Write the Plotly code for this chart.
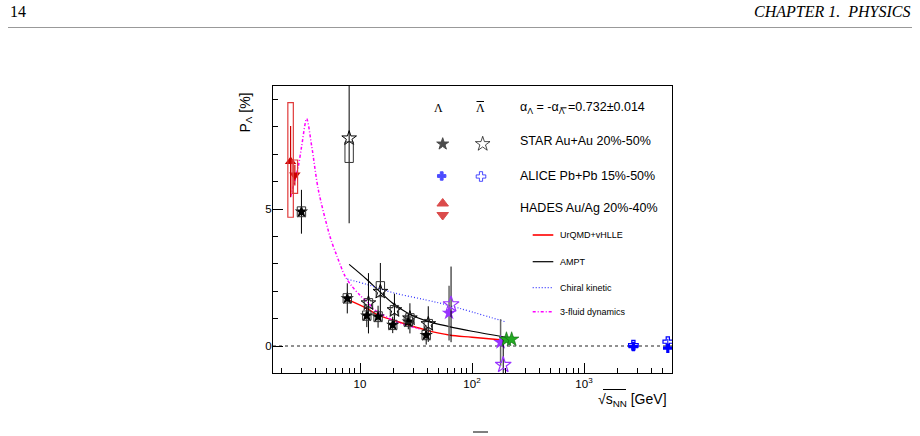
import plotly.graph_objects as go

# ---------------- data ----------------
# STAR Au+Au, Lambda (filled black stars)
star_l_E = [3.0, 7.7, 11.5, 14.5, 19.6, 27.0, 39.0]
star_l_P = [4.90, 1.74, 1.11, 1.07, 0.77, 0.89, 0.40]
star_l_stat = [0.80, 0.55, 0.42, 0.40, 0.30, 0.28, 0.35]
star_l_sys_lo = [0.18, 0.17, 0.17, 0.18, 0.17, 0.17, 0.17]
star_l_sys_hi = [0.18, 0.17, 0.17, 0.18, 0.17, 0.17, 0.17]

# STAR Au+Au, anti-Lambda (open black stars)
star_a_E = [8.0, 11.9, 15.2, 20.3, 27.9, 40.7]
star_a_P = [7.58, 1.56, 1.98, 1.31, 1.01, 0.80]
star_a_stat = [3.10, 1.10, 1.05, 0.60, 0.55, 0.65]
star_a_sys_lo = [0.88, 0.17, 0.18, 0.17, 0.17, 0.17]
star_a_sys_hi = [-0.13, 0.17, 0.37, 0.17, 0.17, 0.17]

# STAR 62.4 / 200 GeV (purple)
pur_l_E = [62.4, 180.0]
pur_l_P = [1.20, 0.13]
pur_l_stat = [1.00, 0.85]
pur_a_E = [65.0, 190.0]
pur_a_P = [1.52, -0.69]
pur_a_stat = [1.38, 0.97]

# STAR 200 GeV high statistics (green)
grn_E = [203.0, 226.0]
grn_P = [0.24, 0.24]
grn_stat = [0.05, 0.05]

# ALICE Pb+Pb (blue crosses)
ali_l_E = [2760.0, 5600.0]
ali_l_P = [-0.02, -0.08]
ali_l_stat = [0.10, 0.10]
ali_a_E = [2760.0, 5600.0]
ali_a_P = [0.03, 0.16]
ali_a_stat = [0.10, 0.10]

# HADES Au+Au / Ag+Ag (red triangles)
had_E = [2.40, 2.62]
had_P = [6.73, 6.24]
had_stat = [1.30, 0.38]
had_sys_lo = [2.03, 0.67]
had_sys_hi = [2.15, 0.55]
had_sym = ["triangle-up", "triangle-down"]

# models
urqmd_E = [7.7, 11.5, 14.5, 19.6, 27.0, 39.0, 62.4, 100.0, 200.0]
urqmd_P = [1.70, 1.37, 1.13, 0.95, 0.77, 0.58, 0.40, 0.32, 0.21]
ampt_E = [8.0, 11.5, 14.5, 19.6, 27.0, 39.0, 62.4, 100.0, 200.0]
ampt_P = [2.98, 2.43, 2.04, 1.56, 1.19, 0.92, 0.71, 0.54, 0.32]
chiral_E = [7.7, 11.5, 19.6, 39.0, 62.4, 200.0]
chiral_P = [2.44, 2.25, 1.95, 1.68, 1.48, 0.88]
tfd_E = [2.40, 2.81, 3.01, 3.34, 3.71, 4.25, 5.4, 6.2, 7.35, 8.4, 10.0, 11.9, 13.6, 21.0, 34.0]
tfd_P = [5.45, 6.55, 7.28, 8.30, 7.28, 5.69, 3.99, 3.30, 2.55, 2.20, 1.85, 1.56, 1.31, 0.89, 0.62]

x_tickvals = [10, 100, 1000]
x_ticktext = ["10", "10<sup>2</sup>", "10<sup>3</sup>"]
x_minor = [2, 3, 4, 5, 6, 7, 8, 9, 20, 30, 40, 50, 60, 70, 80, 90,
           200, 300, 400, 500, 600, 700, 800, 900, 2000, 3000, 4000, 5000, 6000]
y_tickvals = [0, 5]
y_ticktext = ["0", "5"]
y_minor = [-1, 1, 2, 3, 4, 6, 7, 8, 9]

# ---------------- layout geometry ----------------
W, H = 920, 436
L, R, T, B = 273, 672, 86, 373
SANS = "Liberation Sans"
SERIF = "Liberation Serif"


def px(x):
    return (x - L) / (R - L)


def py(y):
    return (B - y) / (B - T)


fig = go.Figure()


def err(arr, color, width=1.0):
    return dict(type="data", array=arr, visible=True, color=color, thickness=width, width=0)


# models first (below points)
fig.add_trace(go.Scatter(x=urqmd_E, y=urqmd_P, mode="lines", line=dict(color="#ff0000", width=1.4, shape="spline"), showlegend=False))
fig.add_trace(go.Scatter(x=ampt_E, y=ampt_P, mode="lines", line=dict(color="black", width=1.2, shape="spline"), showlegend=False))
fig.add_trace(go.Scatter(x=chiral_E, y=chiral_P, mode="lines", line=dict(color="#3333ff", width=1.2, dash="1px,2px", shape="spline"), showlegend=False))
fig.add_trace(go.Scatter(x=tfd_E, y=tfd_P, mode="lines", line=dict(color="#ff00ff", width=1.5, dash="3px,2px,1px,2px", shape="spline", smoothing=0.8), showlegend=False))

# data points
fig.add_trace(go.Scatter(x=star_l_E, y=star_l_P, mode="markers", error_y=err(star_l_stat, "black"),
                         marker=dict(symbol="star", size=10, color="black"), showlegend=False))
fig.add_trace(go.Scatter(x=star_a_E, y=star_a_P, mode="markers", error_y=err(star_a_stat, "black"),
                         marker=dict(symbol="star-open", size=11, color="black", line=dict(width=1)), showlegend=False))
fig.add_trace(go.Scatter(x=pur_l_E, y=pur_l_P, mode="markers", error_y=err(pur_l_stat, "#666666", 1.5),
                         marker=dict(symbol="star", size=11, color="#9933ff"), showlegend=False))
fig.add_trace(go.Scatter(x=pur_a_E, y=pur_a_P, mode="markers", error_y=err(pur_a_stat, "black"),
                         marker=dict(symbol="star-open", size=12, color="#9933ff", line=dict(width=1.2)), showlegend=False))
fig.add_trace(go.Scatter(x=grn_E, y=grn_P, mode="markers", error_y=err(grn_stat, "#118811"),
                         marker=dict(symbol="star", size=11, color="#22aa22", line=dict(width=0.6, color="#116611")), showlegend=False))
fig.add_trace(go.Scatter(x=ali_l_E, y=ali_l_P, mode="markers", error_y=err(ali_l_stat, "#0000ff"),
                         marker=dict(symbol="cross", size=8, color="#0000ff"), showlegend=False))
fig.add_trace(go.Scatter(x=ali_a_E, y=ali_a_P, mode="markers", error_y=err(ali_a_stat, "#0000ff"),
                         marker=dict(symbol="cross-open", size=8, color="#0000ff", line=dict(width=1.2)), showlegend=False))
fig.add_trace(go.Scatter(x=had_E, y=had_P, mode="markers", error_y=err(had_stat, "#cc0000", 1.2),
                         marker=dict(symbol=had_sym, size=10, color="#cc0000"), showlegend=False))

shapes = []
# zero line
shapes.append(dict(type="line", xref="paper", yref="y", x0=0, x1=1, y0=0, y1=0,
                   line=dict(color="#222222", width=1, dash="3px,3px"), layer="below"))


def boxes(E, P, lo, hi, f, color, width):
    out = []
    for e, p, a, b in zip(E, P, lo, hi):
        out.append(dict(type="rect", xref="x", yref="y", x0=e / f, x1=e * f, y0=p - a, y1=p + b,
                        line=dict(color=color, width=width), fillcolor="rgba(0,0,0,0)", layer="above"))
    return out


shapes += boxes(star_l_E, star_l_P, star_l_sys_lo, star_l_sys_hi, 1.09, "#333333", 1)
shapes += boxes(star_a_E, star_a_P, star_a_sys_lo, star_a_sys_hi, 1.09, "#333333", 1)
shapes += boxes(had_E, had_P, had_sys_lo, had_sys_hi, 1.058, "#e03a3a", 1.2)

# ---------------- legend (overlay pixel axes) ----------------
leg_mk_x = [442.7, 482.7, 441.7, 481.0, 442.7, 442.7]
leg_mk_y = [144.0, 144.0, 176.0, 176.5, 203.5, 215.0]
leg_mk_sym = ["star", "star-open", "cross", "cross-open", "triangle-up", "triangle-down"]
leg_mk_col = ["black", "black", "#0000ff", "#0000ff", "#cc0000", "#cc0000"]
leg_mk_size = [9, 11, 7, 8, 10, 10]
fig.add_trace(go.Scatter(x=leg_mk_x, y=leg_mk_y, xaxis="x2", yaxis="y2", mode="markers",
                         marker=dict(symbol=leg_mk_sym, color=leg_mk_col, size=leg_mk_size, line=dict(width=1, color=leg_mk_col)),
                         showlegend=False, hoverinfo="skip"))

model_names = ["UrQMD+vHLLE", "AMPT", "Chiral kinetic", "3-fluid dynamics"]
model_rows = [235.0, 261.7, 287.7, 311.7]
model_styles = [dict(color="#ff0000", width=1.6), dict(color="black", width=1.2),
                dict(color="#3333ff", width=1.2, dash="1px,2px"), dict(color="#ff00ff", width=1.5, dash="3px,2px,1px,2px")]
for nm, yy, st in zip(model_names, model_rows, model_styles):
    fig.add_trace(go.Scatter(x=[532.7, 553.3], y=[yy, yy], xaxis="x2", yaxis="y2", mode="lines",
                             line=st, showlegend=False, hoverinfo="skip"))

ann = []
LB = "Λ"
ann.append(dict(x=px(438.3), y=py(108.3), xref="paper", yref="paper", text=LB, showarrow=False,
                font=dict(family=SERIF, size=12, color="black"), xanchor="center", yanchor="middle"))
ann.append(dict(x=px(480.0), y=py(108.3), xref="paper", yref="paper", text=LB, showarrow=False,
                font=dict(family=SERIF, size=12, color="black"), xanchor="center", yanchor="middle"))
shapes.append(dict(type="line", xref="paper", yref="paper", x0=px(476.5), x1=px(484.0), y0=py(101.5), y1=py(101.5),
                   line=dict(color="black", width=1)))
ann.append(dict(x=px(518.3), y=py(108.3), xref="paper", yref="paper",
                text="α<sub>Λ</sub> = -α<sub>Λ</sub> =0.732±0.014", showarrow=False,
                font=dict(family=SANS, size=12.5, color="black"), xanchor="left", yanchor="middle"))
# overline of the anti-Lambda subscript
shapes.append(dict(type="line", xref="paper", yref="paper", x0=px(560.5), x1=px(566.5), y0=py(107.8), y1=py(107.8),
                   line=dict(color="black", width=1)))
for txt, yy in zip(["STAR Au+Au 20%-50%", "ALICE Pb+Pb 15%-50%", "HADES Au/Ag 20%-40%"], [141.0, 175.7, 208.3]):
    ann.append(dict(x=px(518.3), y=py(yy), xref="paper", yref="paper", text=txt, showarrow=False,
                    font=dict(family=SANS, size=12.5, color="black"), xanchor="left", yanchor="middle"))
for nm, yy in zip(model_names, model_rows):
    ann.append(dict(x=px(558.3), y=py(yy), xref="paper", yref="paper", text=nm, showarrow=False,
                    font=dict(family=SANS, size=9, color="black"), xanchor="left", yanchor="middle"))

# axis titles
ann.append(dict(x=px(245.5), y=py(91.0), xref="paper", yref="paper", text="P<sub>Λ</sub> [%]", textangle=-90,
                showarrow=False, font=dict(family=SANS, size=14, color="black"), xanchor="center", yanchor="top"))
ann.append(dict(x=px(669.0), y=py(400.0), xref="paper", yref="paper", text="√s<sub>NN</sub> [GeV]",
                showarrow=False, font=dict(family=SANS, size=14, color="black"), xanchor="right", yanchor="middle"))
shapes.append(dict(type="line", xref="paper", yref="paper", x0=px(603.0), x1=px(626.0), y0=py(389.5), y1=py(389.5),
                   line=dict(color="black", width=1)))

# page header / footer
ann.append(dict(x=px(8), y=py(12), xref="paper", yref="paper", text="14", showarrow=False,
                font=dict(family=SERIF, size=16, color="black"), xanchor="left", yanchor="middle"))
ann.append(dict(x=px(912), y=py(12), xref="paper", yref="paper", text="<i>CHAPTER 1.  PHYSICS</i>", showarrow=False,
                font=dict(family=SERIF, size=16, color="black"), xanchor="right", yanchor="middle"))
shapes.append(dict(type="line", xref="paper", yref="paper", x0=px(8), x1=px(912), y0=py(27.5), y1=py(27.5),
                   line=dict(color="#999999", width=1)))
shapes.append(dict(type="line", xref="paper", yref="paper", x0=px(473), x1=px(488), y0=py(432), y1=py(432),
                   line=dict(color="black", width=1)))

fig.update_layout(
    width=W, height=H,
    margin=dict(l=L, r=W - R, t=T, b=H - B, pad=0),
    paper_bgcolor="white", plot_bgcolor="white",
    showlegend=False,
    shapes=shapes, annotations=ann,
    xaxis=dict(type="log", range=[0.2232, 3.7857], showline=True, mirror=True, linecolor="black", linewidth=1,
               ticks="inside", ticklen=10, tickwidth=1, tickcolor="black",
               tickvals=x_tickvals, ticktext=x_ticktext, showgrid=False, zeroline=False,
               tickfont=dict(family=SANS, size=11.5, color="black"),
               minor=dict(ticks="inside", ticklen=5, tickwidth=1, tickcolor="black", tickvals=x_minor, showgrid=False)),
    yaxis=dict(range=[-0.985, 9.49], showline=True, mirror=True, linecolor="black", linewidth=1,
               ticks="inside", ticklen=10, tickwidth=1, tickcolor="black", ticklabelstandoff=-2,
               tickvals=y_tickvals, ticktext=y_ticktext, showgrid=False, zeroline=False,
               tickfont=dict(family=SANS, size=11.5, color="black"),
               minor=dict(ticks="inside", ticklen=5, tickwidth=1, tickcolor="black", tickvals=y_minor, showgrid=False)),
    xaxis2=dict(overlaying="x", anchor="y2", range=[L, R], visible=False, fixedrange=True),
    yaxis2=dict(overlaying="y", anchor="x2", range=[B, T], visible=False, fixedrange=True),
)

fig.write_html("out.html")
